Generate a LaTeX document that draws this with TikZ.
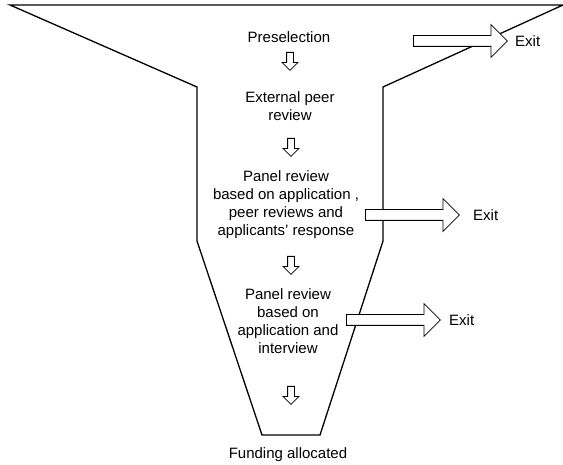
\documentclass[tikz,border=0pt]{standalone}
\usepackage{fontspec}
\setmainfont{Liberation Sans}
\usetikzlibrary{shapes.arrows}

\tikzset{
  stage/.style={align=center,inner sep=0pt},
  exitlabel/.style={anchor=west,inner sep=0pt},
  exitarrow/.style={single arrow,draw,fill=white,line width=0.8pt,
    inner xsep=0pt,inner ysep=5pt,minimum height=94pt,minimum width=32pt,
    single arrow head extend=11pt,anchor=tail},
  downarrow/.style={single arrow,draw,fill=white,line width=0.8pt,rotate=-90,
    inner xsep=0pt,inner ysep=3pt,minimum height=18pt,minimum width=15pt,
    single arrow head extend=4.5pt,anchor=tail}
}

\begin{document}
\begin{tikzpicture}[x=1pt,y=-1pt,font=\fontsize{15pt}{18pt}\selectfont]
  \useasboundingbox (0,0) rectangle (563,465);

  % Funnel
  \draw[line width=1.3pt,line join=miter] (10,5) -- (563,5) -- (383,87) -- (383,241)
    -- (320,435) -- (262,435) -- (197,241) -- (197,87) -- cycle;

  % Stages
  \node[stage] (pre) at (289,37) {Preselection};
  \node[stage] (ext) at (290,106) {External peer\\review};
  \node[stage] (panA) at (286,205) {Panel review\\based on application ,\\peer reviews and\\applicants' response};
  \node[stage] (panB) at (288,321) {Panel review\\based on\\application and\\interview};
  \node[stage] (fund) at (288,455) {Funding allocated};

  % Steps down
  \node[downarrow] (stepA) at (290,52) {};
  \node[downarrow] (stepB) at (291,138) {};
  \node[downarrow] (stepC) at (291,256) {};
  \node[downarrow] (stepD) at (291,386) {};

  % Exits
  \node[exitarrow] (outA) at (413,41) {};
  \node[exitlabel] (exA) at (515,41) {Exit};
  \node[exitarrow] (outB) at (365,215) {};
  \node[exitlabel] (exB) at (473,215) {Exit};
  \node[exitarrow] (outC) at (346,320) {};
  \node[exitlabel] (exC) at (449,320) {Exit};

\end{tikzpicture}
\end{document}
